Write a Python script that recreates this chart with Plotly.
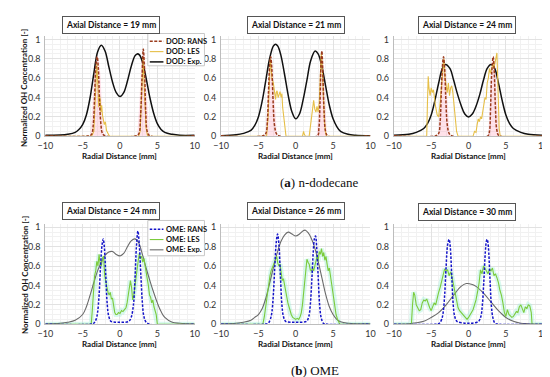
import plotly.graph_objects as go

W, H = 550, 377

# ---------------- DATA ----------------
# n-dodecane, Axial 19 mm
dod19_exp_x = [-10, -9, -8, -7, -6, -5.5, -5, -4.5, -4, -3.5, -3, -2.5, -2, -1.5, -1, -0.5, 0, 0.5, 1, 1.5, 2, 2.3, 2.6, 3, 3.5, 4, 4.5, 5, 5.5, 6, 7, 8, 10]
dod19_exp_y = [0.01, 0.01, 0.012, 0.02, 0.04, 0.07, 0.12, 0.22, 0.4, 0.65, 0.87, 0.94, 0.88, 0.72, 0.56, 0.45, 0.41, 0.45, 0.57, 0.72, 0.83, 0.85, 0.84, 0.77, 0.6, 0.4, 0.24, 0.13, 0.07, 0.04, 0.02, 0.01, 0.01]
dod19_rans_x = [-10, -4.2, -3.8, -3.6, -3.4, -3.25, -3.05, -2.9, -2.75, -2.55, -2.35, -2.0, 2.2, 2.55, 2.75, 2.95, 3.12, 3.3, 3.45, 3.65, 4.0, 10]
dod19_rans_y = [0.005, 0.005, 0.02, 0.1, 0.4, 0.7, 0.82, 0.7, 0.4, 0.12, 0.03, 0.005, 0.005, 0.03, 0.2, 0.6, 0.9, 0.65, 0.25, 0.05, 0.005, 0.005]
dod19_les_x = [-10, -3.8, -3.5, -3.3, -3.1, -2.95, -2.85, -2.75, -2.65, -2.55, -2.45, -2.35, -2.25, -2.1, -1.95, -1.8, -1.6, -1.4, 2.5, 2.7, 2.85, 3.0, 3.1, 3.2, 3.35, 3.5, 3.7, 10]
dod19_les_y = [0, 0, 0.05, 0.35, 0.75, 0.5, 0.3, 0.42, 0.38, 0.25, 0.32, 0.22, 0.18, 0.12, 0.15, 0.06, 0.03, 0, 0, 0.05, 0.35, 0.7, 0.8, 0.6, 0.3, 0.08, 0, 0]
dod19_band_l_x = [-4.0, -3.7, -3.4, -3.05, -2.7, -2.4, -2.1]
dod19_band_l_y = [0, 0.3, 0.7, 0.84, 0.7, 0.3, 0]
dod19_band_r_x = [2.3, 2.6, 2.9, 3.12, 3.35, 3.65, 3.95]
dod19_band_r_y = [0, 0.35, 0.8, 0.9, 0.8, 0.35, 0]

# n-dodecane, Axial 21 mm
dod21_exp_x = [-10, -8, -7, -6, -5.5, -5, -4.5, -4, -3.5, -3, -2.7, -2.4, -2, -1.5, -1, -0.5, 0, 0.5, 1, 1.5, 2, 2.6, 3, 3.5, 4, 4.5, 5, 5.5, 6, 7, 8, 10]
dod21_exp_y = [0.005, 0.015, 0.03, 0.06, 0.11, 0.2, 0.36, 0.58, 0.8, 0.93, 0.95, 0.93, 0.84, 0.64, 0.42, 0.25, 0.18, 0.23, 0.38, 0.58, 0.78, 0.88, 0.85, 0.72, 0.52, 0.32, 0.18, 0.1, 0.05, 0.02, 0.01, 0.005]
dod21_rans_x = [-10, -4.4, -4.0, -3.8, -3.65, -3.5, -3.35, -3.2, -3.05, -2.85, -2.6, -2.3, 2.9, 3.1, 3.25, 3.38, 3.5, 3.65, 3.8, 4.0, 4.3, 10]
dod21_rans_y = [0.005, 0.005, 0.03, 0.15, 0.45, 0.72, 0.82, 0.7, 0.4, 0.12, 0.03, 0.005, 0.005, 0.08, 0.35, 0.75, 0.88, 0.6, 0.25, 0.05, 0.005, 0.005]
dod21_les_x = [-10, -3.9, -3.7, -3.55, -3.4, -3.3, -3.2, -3.0, -2.85, -2.7, -2.6, -2.5, -2.35, -2.2, -2.1, -1.95, -1.85, -1.75, -1.6, -1.5, -1.3, 0.9, 1.05, 1.15, 1.3, 1.8, 1.95, 2.1, 2.25, 2.4, 2.55, 2.7, 2.85, 3.0, 3.15, 3.3, 3.42, 3.55, 3.7, 3.85, 4.0, 4.1, 10]
dod21_les_y = [0, 0, 0.2, 0.5, 0.8, 0.72, 0.6, 0.55, 0.45, 0.38, 0.45, 0.47, 0.4, 0.43, 0.46, 0.4, 0.44, 0.3, 0.18, 0.08, 0, 0, 0.05, 0.02, 0, 0, 0.1, 0.2, 0.32, 0.37, 0.28, 0.25, 0.31, 0.25, 0.35, 0.6, 0.85, 0.7, 0.35, 0.15, 0.04, 0, 0]
dod21_band_l_x = [-4.1, -3.8, -3.55, -3.35, -3.1, -2.8, -2.5]
dod21_band_l_y = [0, 0.35, 0.72, 0.83, 0.72, 0.35, 0]
dod21_band_r_x = [2.8, 3.1, 3.3, 3.5, 3.7, 3.95, 4.2]
dod21_band_r_y = [0, 0.35, 0.75, 0.88, 0.75, 0.35, 0]

# n-dodecane, Axial 24 mm
dod24_exp_x = [-10, -8, -7, -6, -5.5, -5, -4.5, -4, -3.5, -3.1, -2.5, -2, -1.5, -1, -0.5, 0, 0.5, 1, 1.5, 2, 2.5, 3, 3.5, 4, 4.5, 5, 5.5, 6, 7, 8, 10]
dod24_exp_y = [0.01, 0.02, 0.04, 0.08, 0.13, 0.22, 0.37, 0.55, 0.7, 0.74, 0.7, 0.58, 0.44, 0.32, 0.23, 0.2, 0.23, 0.31, 0.43, 0.58, 0.7, 0.74, 0.7, 0.55, 0.37, 0.22, 0.13, 0.08, 0.04, 0.02, 0.01]
dod24_rans_x = [-10, -4.4, -4.0, -3.8, -3.65, -3.5, -3.35, -3.2, -3.05, -2.85, -2.6, -2.3, 2.6, 2.8, 2.95, 3.1, 3.3, 3.45, 3.6, 3.8, 4.1, 10]
dod24_rans_y = [0.005, 0.005, 0.03, 0.15, 0.45, 0.72, 0.82, 0.7, 0.4, 0.12, 0.03, 0.005, 0.005, 0.05, 0.3, 0.65, 0.82, 0.65, 0.3, 0.06, 0.005, 0.005]
dod24_les_x = [-10, -5.6, -5.5, -5.4, -5.3, -5.15, -5.0, -4.85, -4.7, -4.55, -4.4, -4.2, -4.0, -3.8, -3.6, -3.45, -3.3, -3.15, -3.0, -2.85, -2.7, -2.55, -2.4, -2.25, -2.1, -1.95, -1.8, -1.6, -1.4, 0.6, 0.8, 1.0, 1.15, 1.3, 1.45, 1.6, 1.75, 1.9, 2.05, 2.2, 2.35, 2.5, 2.65, 2.8, 2.95, 3.1, 3.25, 3.4, 3.55, 3.7, 3.8, 3.9, 4.0, 4.1, 4.25, 10]
dod24_les_y = [0, 0, 0.35, 0.62, 0.5, 0.42, 0.5, 0.45, 0.48, 0.35, 0.3, 0.22, 0.2, 0.35, 0.55, 0.7, 0.8, 0.6, 0.5, 0.45, 0.55, 0.42, 0.5, 0.52, 0.45, 0.3, 0.15, 0.05, 0, 0, 0.05, 0.04, 0.12, 0.18, 0.15, 0.2, 0.18, 0.27, 0.3, 0.4, 0.38, 0.55, 0.6, 0.7, 0.65, 0.72, 0.75, 0.7, 0.78, 0.82, 0.86, 0.6, 0.3, 0.08, 0, 0]
dod24_band_l_x = [-4.1, -3.8, -3.55, -3.35, -3.1, -2.8, -2.5]
dod24_band_l_y = [0, 0.35, 0.72, 0.83, 0.72, 0.35, 0]
dod24_band_r_x = [2.6, 2.9, 3.1, 3.3, 3.55, 3.8, 4.1]
dod24_band_r_y = [0, 0.35, 0.72, 0.83, 0.72, 0.35, 0]

# OME, Axial 24 mm
ome24_exp_x = [-10, -8, -7, -6, -5, -4.5, -4, -3.5, -3, -2.5, -2, -1.5, -1, -0.5, 0, 0.5, 1, 1.5, 2, 2.5, 3, 3.5, 4, 4.5, 5, 5.5, 6, 7, 8, 10]
ome24_exp_y = [0.005, 0.01, 0.02, 0.04, 0.1, 0.18, 0.3, 0.43, 0.55, 0.64, 0.71, 0.745, 0.75, 0.72, 0.705, 0.73, 0.8, 0.86, 0.88, 0.84, 0.72, 0.58, 0.45, 0.33, 0.22, 0.13, 0.07, 0.02, 0.01, 0.005]
ome24_rans_x = [-10, -4, -3.5, -3.2, -3.0, -2.8, -2.6, -2.4, -2.25, -2.1, -1.9, -1.7, -1.5, -1.2, -0.5, 0, 0.5, 1.2, 1.5, 1.8, 2.0, 2.2, 2.4, 2.6, 2.8, 3.0, 3.2, 3.5, 4, 10]
ome24_rans_y = [0, 0, 0.01, 0.05, 0.12, 0.3, 0.6, 0.82, 0.88, 0.8, 0.5, 0.2, 0.08, 0.03, 0.02, 0.02, 0.02, 0.03, 0.07, 0.2, 0.45, 0.8, 0.96, 0.8, 0.5, 0.22, 0.08, 0.02, 0, 0]
ome24_les_x = [-10, -3.85, -3.7, -3.55, -3.4, -3.25, -3.1, -2.95, -2.8, -2.65, -2.5, -2.35, -2.2, -2.05, -1.9, -1.75, -1.6, -1.45, -1.3, -1.15, -1.0, -0.85, -0.7, -0.55, -0.4, -0.2, 0.0, 0.2, 0.4, 0.6, 0.8, 0.95, 1.1, 1.25, 1.4, 1.55, 1.7, 1.85, 2.0, 2.15, 2.3, 2.45, 2.6, 2.75, 2.9, 3.05, 3.2, 3.35, 3.5, 3.65, 3.8, 3.95, 4.1, 4.25, 4.4, 4.55, 4.7, 4.85, 5.0, 10]
ome24_les_y = [0, 0, 0.15, 0.32, 0.5, 0.55, 0.65, 0.6, 0.72, 0.62, 0.6, 0.68, 0.7, 0.5, 0.42, 0.38, 0.33, 0.3, 0.33, 0.26, 0.27, 0.18, 0.12, 0.1, 0.1, 0.12, 0.11, 0.14, 0.13, 0.15, 0.17, 0.22, 0.3, 0.42, 0.45, 0.38, 0.25, 0.3, 0.4, 0.5, 0.6, 0.66, 0.73, 0.68, 0.7, 0.64, 0.68, 0.62, 0.55, 0.5, 0.4, 0.3, 0.28, 0.22, 0.25, 0.18, 0.15, 0.1, 0, 0]

# OME, Axial 26 mm
ome26_exp_x = [-10, -8, -7, -6, -5.5, -5, -4.5, -4, -3.5, -3, -2.5, -2, -1.5, -1, -0.5, 0, 0.5, 1, 1.3, 1.7, 2, 2.5, 3, 3.5, 4, 4.5, 5, 5.5, 6, 7, 10]
ome26_exp_y = [0.003, 0.01, 0.02, 0.04, 0.07, 0.1, 0.16, 0.27, 0.42, 0.58, 0.73, 0.85, 0.92, 0.95, 0.93, 0.91, 0.93, 0.965, 0.97, 0.94, 0.9, 0.8, 0.65, 0.48, 0.31, 0.18, 0.1, 0.05, 0.025, 0.01, 0.003]
ome26_rans_x = [-10, -4.2, -3.7, -3.4, -3.2, -3.0, -2.8, -2.6, -2.43, -2.25, -2.05, -1.85, -1.65, -1.35, -0.5, 0, 0.5, 1.45, 1.75, 1.95, 2.15, 2.35, 2.5, 2.65, 2.8, 3.0, 3.2, 3.4, 3.7, 4.2, 10]
ome26_rans_y = [0, 0, 0.01, 0.05, 0.12, 0.3, 0.6, 0.85, 0.93, 0.82, 0.5, 0.2, 0.08, 0.03, 0.02, 0.02, 0.02, 0.03, 0.08, 0.2, 0.45, 0.75, 0.88, 0.91, 0.8, 0.5, 0.2, 0.07, 0.01, 0, 0]
ome26_les_x = [-10, -4.4, -4.2, -4.0, -3.8, -3.6, -3.45, -3.3, -3.15, -3.0, -2.85, -2.7, -2.55, -2.4, -2.25, -2.1, -1.95, -1.8, -1.65, -1.5, -1.35, -1.2, -1.05, -0.9, -0.75, -0.6, -0.4, -0.2, 0.0, 0.2, 0.4, 0.6, 0.75, 0.9, 1.05, 1.2, 1.35, 1.5, 1.65, 1.8, 1.95, 2.1, 2.25, 2.4, 2.55, 2.7, 2.85, 3.0, 3.15, 3.3, 3.45, 3.6, 3.75, 3.9, 4.05, 4.2, 4.35, 4.5, 4.65, 4.8, 4.95, 5.1, 5.25, 5.4, 5.6, 5.9, 10]
ome26_les_y = [0, 0, 0.08, 0.2, 0.3, 0.42, 0.5, 0.55, 0.58, 0.62, 0.65, 0.66, 0.7, 0.63, 0.6, 0.62, 0.55, 0.45, 0.47, 0.4, 0.35, 0.3, 0.22, 0.18, 0.12, 0.1, 0.07, 0.06, 0.05, 0.06, 0.05, 0.08, 0.12, 0.2, 0.32, 0.45, 0.55, 0.67, 0.64, 0.62, 0.56, 0.55, 0.58, 0.55, 0.6, 0.66, 0.7, 0.65, 0.75, 0.72, 0.78, 0.7, 0.74, 0.66, 0.7, 0.62, 0.55, 0.58, 0.5, 0.45, 0.35, 0.28, 0.18, 0.1, 0.05, 0, 0]

# OME, Axial 30 mm
ome30_exp_x = [-10, -8, -7, -6, -5, -4, -3, -2, -1, -0.3, 0.5, 1, 2, 3, 4, 5, 6, 7, 8, 10]
ome30_exp_y = [0, 0.005, 0.015, 0.03, 0.07, 0.12, 0.2, 0.3, 0.39, 0.42, 0.41, 0.39, 0.32, 0.23, 0.14, 0.07, 0.03, 0.01, 0.005, 0]
ome30_rans_x = [-10, -4.4, -3.9, -3.6, -3.4, -3.2, -3.0, -2.8, -2.6, -2.45, -2.25, -2.05, -1.85, -1.55, -0.5, 0, 0.5, 1.35, 1.65, 1.85, 2.05, 2.25, 2.4, 2.5, 2.65, 2.85, 3.05, 3.25, 3.55, 4.1, 10]
ome30_rans_y = [0, 0, 0.01, 0.05, 0.12, 0.3, 0.6, 0.82, 0.875, 0.8, 0.5, 0.2, 0.08, 0.03, 0.01, 0.01, 0.01, 0.03, 0.08, 0.2, 0.45, 0.75, 0.86, 0.875, 0.8, 0.5, 0.2, 0.07, 0.01, 0, 0]
ome30_les_x = [-10, -7.65, -7.5, -7.35, -7.2, -7.0, -6.8, -6.6, -6.4, -6.2, -6.0, -5.8, -5.6, -5.4, -5.2, -5.0, -4.8, -4.6, -4.4, -4.2, -4.0, -3.8, -3.6, -3.4, -3.2, -3.0, -2.8, -2.6, -2.4, -2.2, -2.0, -1.8, -1.6, -1.4, -1.2, -1.0, -0.8, -0.6, -0.4, -0.2, 0.0, 0.2, 0.4, 0.6, 0.8, 1.0, 1.2, 1.4, 1.6, 1.8, 2.0, 2.2, 2.4, 2.6, 2.8, 3.0, 3.2, 3.4, 3.6, 3.8, 4.0, 4.2, 4.4, 4.6, 4.8, 5.0, 5.2, 5.4, 5.6, 5.8, 6.0, 6.2, 6.4, 6.6, 6.8, 7.0, 7.2, 7.4, 7.6, 7.8, 8.0, 8.2, 8.4, 8.5, 10]
ome30_les_y = [0, 0, 0.2, 0.33, 0.3, 0.2, 0.17, 0.14, 0.15, 0.22, 0.25, 0.24, 0.26, 0.2, 0.17, 0.14, 0.18, 0.22, 0.2, 0.28, 0.33, 0.38, 0.45, 0.5, 0.57, 0.55, 0.56, 0.5, 0.54, 0.48, 0.4, 0.3, 0.22, 0.17, 0.14, 0.12, 0.1, 0.08, 0.07, 0.05, 0.07, 0.1, 0.12, 0.15, 0.2, 0.25, 0.33, 0.42, 0.56, 0.52, 0.6, 0.58, 0.55, 0.52, 0.57, 0.55, 0.58, 0.5, 0.52, 0.48, 0.43, 0.35, 0.3, 0.22, 0.12, 0.08, 0.15, 0.1, 0.08, 0.07, 0.08, 0.1, 0.13, 0.12, 0.18, 0.2, 0.15, 0.12, 0.18, 0.16, 0.2, 0.19, 0.12, 0, 0]

panel_titles = ["Axial Distance = 19 mm", "Axial Distance = 21 mm", "Axial Distance = 24 mm",
                "Axial Distance = 24 mm", "Axial Distance = 26 mm", "Axial Distance = 30 mm"]
x_ticks = [-10, -5, 0, 5, 10]
y_ticks = [0, 0.2, 0.4, 0.6, 0.8, 1]
legend_top = ["DOD: RANS", "DOD: LES", "DOD: Exp."]
legend_bot = ["OME: RANS", "OME: LES", "OME: Exp."]
captions = ["(<b>a</b>) n-dodecane", "(<b>b</b>) OME"]
x_title = "Radial Distance [mm]"
y_title = "Normalized OH Concentration [-]"

# ---------------- STYLE ----------------
C_DOD_RANS = "#9a3b1c"
C_DOD_LES = "#e6bf48"
C_DOD_EXP = "#111111"
C_PINK = "rgba(255,150,180,0.28)"
C_OME_RANS = "#1414c8"
C_OME_LES = "#7ccb3c"
C_OME_EXP = "#6a6a6a"
C_GREEN_HALO = "rgba(160,240,215,0.4)"
FONT = "Lato"


def px(x):
    return x / W


def py(y):
    return 1 - y / H


# plot-area pixel boxes (left, right, top, bottom)
boxes = [(30, 183, 26, 128), (210, 363, 26, 128), (387, 540, 26, 128),
         (30, 183, 218, 320), (210, 363, 218, 320), (387, 540, 218, 320)]
title_pos = [(97, 14.5), (287, 14.5), (462, 14.5), (97, 204.5), (287, 204.5), (462, 205)]

fig = go.Figure()


def add(i, x, y, **kw):
    ax = "" if i == 0 else str(i + 1)
    fig.add_trace(go.Scatter(x=x, y=y, xaxis="x" + ax, yaxis="y" + ax,
                             showlegend=False, hoverinfo="skip", **kw))


dod = [
    (dod19_exp_x, dod19_exp_y, dod19_rans_x, dod19_rans_y, dod19_les_x, dod19_les_y,
     [(dod19_band_l_x, dod19_band_l_y), (dod19_band_r_x, dod19_band_r_y)]),
    (dod21_exp_x, dod21_exp_y, dod21_rans_x, dod21_rans_y, dod21_les_x, dod21_les_y,
     [(dod21_band_l_x, dod21_band_l_y), (dod21_band_r_x, dod21_band_r_y)]),
    (dod24_exp_x, dod24_exp_y, dod24_rans_x, dod24_rans_y, dod24_les_x, dod24_les_y,
     [(dod24_band_l_x, dod24_band_l_y), (dod24_band_r_x, dod24_band_r_y)]),
]
for i, (ex, ey, rx, ry, lx, ly, bands) in enumerate(dod):
    for bx, by in bands:
        add(i, bx, by, mode="lines", line=dict(width=0, shape="spline"), fill="tozeroy", fillcolor=C_PINK)
    add(i, ex, ey, mode="lines", line=dict(color=C_DOD_EXP, width=1.5, shape="spline"))
    add(i, lx, ly, mode="lines", line=dict(color=C_DOD_LES, width=1.1))
    add(i, rx, ry, mode="lines", line=dict(color=C_DOD_RANS, width=1.5, dash="3px,1.5px", shape="spline"))

ome = [
    (ome24_exp_x, ome24_exp_y, ome24_rans_x, ome24_rans_y, ome24_les_x, ome24_les_y),
    (ome26_exp_x, ome26_exp_y, ome26_rans_x, ome26_rans_y, ome26_les_x, ome26_les_y),
    (ome30_exp_x, ome30_exp_y, ome30_rans_x, ome30_rans_y, ome30_les_x, ome30_les_y),
]
for j, (ex, ey, rx, ry, lx, ly) in enumerate(ome):
    i = j + 3
    add(i, lx, ly, mode="lines", line=dict(color=C_GREEN_HALO, width=5))
    add(i, ex, ey, mode="lines", line=dict(color=C_OME_EXP, width=1.1, shape="spline"))
    add(i, lx, ly, mode="lines", line=dict(color=C_OME_LES, width=1.1))
    add(i, rx, ry, mode="lines", line=dict(color=C_OME_RANS, width=1.5, dash="2.5px,1.5px", shape="spline"))

layout = dict(width=W, height=H, margin=dict(l=0, r=0, t=0, b=0),
              paper_bgcolor="white", plot_bgcolor="white", showlegend=False,
              font=dict(family=FONT, size=9, color="#333"))

for i, (l, r, t, b) in enumerate(boxes):
    ax = "" if i == 0 else str(i + 1)
    layout["xaxis" + ax] = dict(
        domain=[px(l), px(r)], range=[-10, 10], anchor="y" + ax,
        tickvals=x_ticks, ticks="", showgrid=True, gridcolor="#e2e2e2", gridwidth=1,
        minor=dict(dtick=1, showgrid=True, gridcolor="#f1f1f1"),
        showline=True, linecolor="#bdbdbd", linewidth=1, zeroline=False, ticklabelstandoff=1,
        tickfont=dict(family=FONT, size=9, color="#333"), fixedrange=True)
    layout["yaxis" + ax] = dict(
        domain=[py(b), py(t)], range=[0, 1.03], anchor="x" + ax,
        tickvals=y_ticks, ticktext=["0", "0.2", "0.4", "0.6", "0.8", "1"], ticks="",
        showgrid=True, gridcolor="#e2e2e2", gridwidth=1,
        minor=dict(dtick=0.05, showgrid=True, gridcolor="#f1f1f1"),
        showline=True, linecolor="#bdbdbd", linewidth=1, zeroline=False, ticklabelstandoff=2,
        tickfont=dict(family=FONT, size=9, color="#333"), fixedrange=True)

annotations = []
shapes = []
for i, (cx, cy) in enumerate(title_pos):
    annotations.append(dict(x=px(cx), y=py(cy), xref="paper", yref="paper", text=panel_titles[i],
                            showarrow=False, font=dict(family=FONT, size=8.5, color="#111", weight="bold"),
                            bordercolor="#555", borderwidth=1, borderpad=3, bgcolor="white",
                            xanchor="center", yanchor="middle"))
for i, (l, r, t, b) in enumerate(boxes):
    annotations.append(dict(x=px((l + r) / 2), y=py(b + 20), xref="paper", yref="paper", text=x_title,
                            showarrow=False, font=dict(family=FONT, size=8, color="#111", weight="bold"),
                            xanchor="center", yanchor="middle"))
for yc in (79, 270):
    annotations.append(dict(x=px(9), y=py(yc), xref="paper", yref="paper", text=y_title, textangle=-90,
                            showarrow=False, font=dict(family=FONT, size=8, color="#111", weight="bold"),
                            xanchor="center", yanchor="middle"))
annotations.append(dict(x=px(311), y=py(175), xref="paper", yref="paper", text=captions[0], showarrow=False,
                        font=dict(family="Liberation Serif", size=13, color="#111"), xanchor="center", yanchor="middle"))
annotations.append(dict(x=px(306), y=py(367), xref="paper", yref="paper", text=captions[1], showarrow=False,
                        font=dict(family="Liberation Serif", size=13, color="#111"), xanchor="center", yanchor="middle"))

# legends (drawn as boxes with sample lines)
leg_specs = [
    (23, 56, [31, 41.5, 52], legend_top, [(C_DOD_RANS, "3px,1.5px", 1.5), (C_DOD_LES, "solid", 1.1), (C_DOD_EXP, "solid", 1.5)]),
    (214, 250, [223, 233.5, 244], legend_bot, [(C_OME_RANS, "2.5px,1.5px", 1.5), (C_OME_LES, "solid", 1.1), (C_OME_EXP, "solid", 1.1)]),
]
for top, bot, ys, names, styles in leg_specs:
    shapes.append(dict(type="rect", xref="paper", yref="paper", x0=px(135), x1=px(193), y0=py(bot), y1=py(top),
                       line=dict(color="#c8c8c8", width=1), fillcolor="white", layer="above"))
    for yy, name, (c, d, w) in zip(ys, names, styles):
        shapes.append(dict(type="line", xref="paper", yref="paper", x0=px(137), x1=px(151), y0=py(yy), y1=py(yy),
                           line=dict(color=c, dash=d, width=w), layer="above"))
        annotations.append(dict(x=px(152), y=py(yy), xref="paper", yref="paper", text=name, showarrow=False,
                                font=dict(family=FONT, size=7.5, color="#111", weight="bold"),
                                xanchor="left", yanchor="middle"))

layout["annotations"] = annotations
layout["shapes"] = shapes
fig.update_layout(**layout)
fig.write_html("out.html")
